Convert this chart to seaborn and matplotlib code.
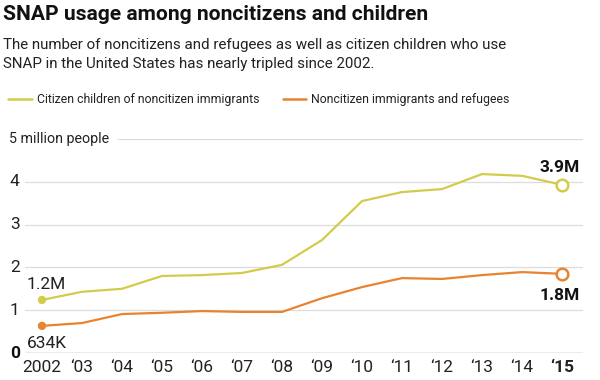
import matplotlib
matplotlib.use("Agg")
import matplotlib.pyplot as plt
import matplotlib.transforms as mtransforms
import seaborn as sns
import pandas as pd

years = list(range(2002, 2016))
year_labels = ["2002", "\u201803", "\u201804", "\u201805", "\u201806", "\u201807", "\u201808",
               "\u201809", "\u201810", "\u201811", "\u201812", "\u201813", "\u201814", "\u201815"]
citizen_children = [1.24, 1.43, 1.50, 1.80, 1.82, 1.87, 2.06, 2.64, 3.55, 3.76, 3.83, 4.18, 4.14, 3.93]
noncitizens = [0.634, 0.70, 0.91, 0.94, 0.98, 0.96, 0.96, 1.28, 1.54, 1.75, 1.73, 1.82, 1.89, 1.85]
series_names = ["Citizen children of noncitizen immigrants", "Noncitizen immigrants and refugees"]
start_labels = ["1.2M", "634K"]
end_labels = ["3.9M", "1.8M"]
y_ticks = [0, 1, 2, 3, 4, 5]
y_tick_labels = ["0", "1", "2", "3", "4", "5 million people"]

colors = {series_names[0]: "#d3cb4c", series_names[1]: "#e8832f"}

sns.set_theme(style="white")
plt.rcParams["font.family"] = ["Roboto", "DejaVu Sans"]

df = pd.DataFrame({
    "year": years * 2,
    "value": citizen_children + noncitizens,
    "series": [series_names[0]] * len(years) + [series_names[1]] * len(years),
})

fig = plt.figure(figsize=(6, 3.8), dpi=100)
ax = fig.add_axes([25 / 600, (380 - 353) / 380, (583 - 25) / 600, (353 - 139) / 380])

sns.lineplot(data=df, x="year", y="value", hue="series", palette=colors, linewidth=1.6,
             legend=False, ax=ax, zorder=3)

ax.set_xlim(2001.575, 2015.525)
ax.set_ylim(0, 5)
for s in ax.spines.values():
    s.set_visible(False)

# gridlines
for t in y_ticks[1:-1]:
    ax.axhline(t, color="#dcdcdc", lw=0.9, zorder=1)
ax.axhline(0, color="#9a9a9a", lw=1.0, zorder=1)
ax.axhline(5, xmin=(118 - 25) / 558, color="#dcdcdc", lw=0.9, zorder=1)

ax.set_xticks(years)
ax.set_xticklabels(year_labels, fontsize=12.5, color="#222222")
ax.get_xticklabels()[-1].set_fontweight("bold")
ax.tick_params(axis="x", length=0, pad=5)
ax.set_yticks([])
ax.set_xlabel("")
ax.set_ylabel("")

trans = mtransforms.blended_transform_factory(fig.transFigure, ax.transData)
for t, lab in zip(y_ticks, y_tick_labels):
    ax.text(10 / 600 if t < 5 else 9 / 600, t, lab, transform=trans, ha="left", va="center",
            fontsize=12.5 if t < 5 else 10.3, color="#222222" if t > 0 else "#111111",
            fontweight="bold" if t == 0 else "normal")

# start dots and end open circles
for name, vals in zip(series_names, [citizen_children, noncitizens]):
    c = colors[name]
    ax.scatter([years[0]], [vals[0]], s=36, color=c, zorder=4, edgecolor="none")
    ax.scatter([years[-1]], [vals[-1]], s=70, facecolor="white", edgecolor=c, lw=1.8, zorder=4)

ax.annotate(start_labels[0], (years[0], citizen_children[0]), xytext=(-15, 8),
            textcoords="offset pixels", ha="left", va="bottom", fontsize=12.5, color="#222222")
ax.annotate(start_labels[1], (years[0], noncitizens[0]), xytext=(-15, -10),
            textcoords="offset pixels", ha="left", va="top", fontsize=12.5, color="#222222")
ax.annotate(end_labels[0], (years[-1], citizen_children[-1]), xytext=(18, 10),
            textcoords="offset pixels", ha="right", va="bottom", fontsize=12.5,
            fontweight="bold", color="#111111")
ax.annotate(end_labels[1], (years[-1], noncitizens[-1]), xytext=(18, -14),
            textcoords="offset pixels", ha="right", va="top", fontsize=12.5,
            fontweight="bold", color="#111111")

# title / subtitle
fig.text(3 / 600, 1 - 15 / 380, "SNAP usage among noncitizens and children", ha="left", va="center",
         fontsize=15.1, fontweight="bold", color="#111111")
fig.text(3 / 600, 1 - 45 / 380, "The number of noncitizens and refugees as well as citizen children who use",
         ha="left", va="center", fontsize=10.9, color="#222222")
fig.text(3 / 600, 1 - 64 / 380, "SNAP in the United States has nearly tripled since 2002.",
         ha="left", va="center", fontsize=10.9, color="#222222")

# legend
ly = 1 - 99 / 380
for (x0, x1, tx), name in zip([(8, 32, 37), (283, 306, 311)], series_names):
    fig.add_artist(plt.Line2D([x0 / 600, x1 / 600], [ly, ly], color=colors[name], lw=1.8))
    fig.text(tx / 600, ly, name, ha="left", va="center", fontsize=8.8, color="#222222")

fig.savefig("out.png", dpi=100)
